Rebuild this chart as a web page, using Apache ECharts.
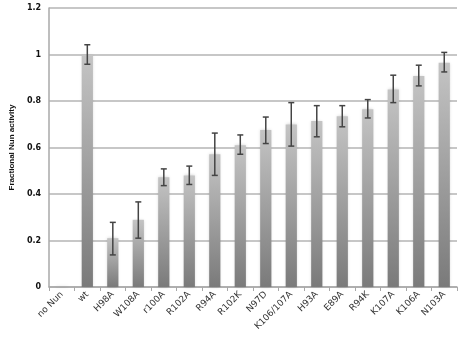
<!DOCTYPE html>
<html>
<head>
<meta charset="utf-8">
<script src="https://cdn.jsdelivr.net/npm/echarts@6/dist/echarts.min.js"></script>
<style>
  html, body { margin: 0; padding: 0; background: #fff; }
  #chart { width: 462px; height: 342px; }
</style>
</head>
<body>
<div id="chart"></div>
<script>
var categories = ['no Nun', 'wt', 'H98A', 'W108A', 'r100A', 'R102A', 'R94A', 'R102K',
    'N97D', 'K106/107A', 'H93A', 'E89A', 'R94K', 'K107A', 'K106A', 'N103A'];
var activity = [0.003, 1.0, 0.21, 0.289, 0.472, 0.48, 0.571, 0.61,
    0.675, 0.699, 0.714, 0.734, 0.765, 0.85, 0.908, 0.965];
var errLow = [null, 0.958, 0.138, 0.21, 0.436, 0.441, 0.48, 0.571,
    0.617, 0.606, 0.646, 0.689, 0.727, 0.793, 0.865, 0.925];
var errHigh = [null, 1.042, 0.278, 0.366, 0.508, 0.52, 0.662, 0.654,
    0.731, 0.793, 0.78, 0.78, 0.806, 0.911, 0.954, 1.009];
var yTicks = { min: 0, max: 1.2, interval: 0.2 };

var chart = echarts.init(document.getElementById('chart'));

var errData = [];
for (var i = 0; i < categories.length; i++) {
    if (errLow[i] != null) errData.push([i, errLow[i], errHigh[i]]);
}

function renderErr(params, api) {
    var x = api.value(0);
    var lo = api.coord([x, api.value(1)]);
    var hi = api.coord([x, api.value(2)]);
    var w = 3;
    var st = { stroke: '#444', lineWidth: 1.5 };
    return {
        type: 'group',
        children: [
            { type: 'line', shape: { x1: hi[0], y1: hi[1], x2: lo[0], y2: lo[1] }, style: st },
            { type: 'line', shape: { x1: hi[0] - w, y1: hi[1], x2: hi[0] + w, y2: hi[1] }, style: st },
            { type: 'line', shape: { x1: lo[0] - w, y1: lo[1], x2: lo[0] + w, y2: lo[1] }, style: st }
        ]
    };
}

var option = {
    animation: false,
    backgroundColor: '#fff',
    grid: {
        left: 39,
        right: 5,
        top: 8,
        bottom: 55
    },
    xAxis: {
        type: 'category',
        data: categories,
        axisLine: { lineStyle: { color: '#a8a8a8', width: 1.5 } },
        axisTick: { show: true, length: 4, lineStyle: { color: '#a8a8a8' } },
        axisLabel: {
            rotate: 45,
            interval: 0,
            color: '#333',
            fontSize: 9,
            fontFamily: 'DejaVu Sans',
            margin: 6
        }
    },
    yAxis: {
        type: 'value',
        min: yTicks.min,
        max: yTicks.max,
        interval: yTicks.interval,
        name: 'Fractional Nun activity',
        nameLocation: 'middle',
        nameGap: 28,
        nameTextStyle: {
            color: '#111',
            fontSize: 8,
            fontWeight: 'bold',
            fontFamily: 'Liberation Sans'
        },
        axisLine: { show: true, lineStyle: { color: '#a8a8a8', width: 1.5 } },
        axisTick: { show: false },
        splitLine: { lineStyle: { color: '#b4b4b4', width: 1.5 } },
        axisLabel: {
            color: '#111',
            fontSize: 8,
            fontWeight: 'bold',
            fontFamily: 'DejaVu Sans',
            margin: 8,
            formatter: function (v) { return String(Math.round(v * 10) / 10); }
        }
    },
    series: [
        {
            type: 'bar',
            data: activity,
            barWidth: '44%',
            itemStyle: {
                color: new echarts.graphic.LinearGradient(0, 0, 0, 1, [
                    { offset: 0, color: '#c4c4c4' },
                    { offset: 1, color: '#7a7a7a' }
                ]),
                shadowBlur: 3,
                shadowColor: 'rgba(0,0,0,0.18)'
            }
        },
        {
            type: 'custom',
            data: errData,
            renderItem: renderErr,
            z: 5
        }
    ]
};

chart.setOption(option);
</script>
</body>
</html>
